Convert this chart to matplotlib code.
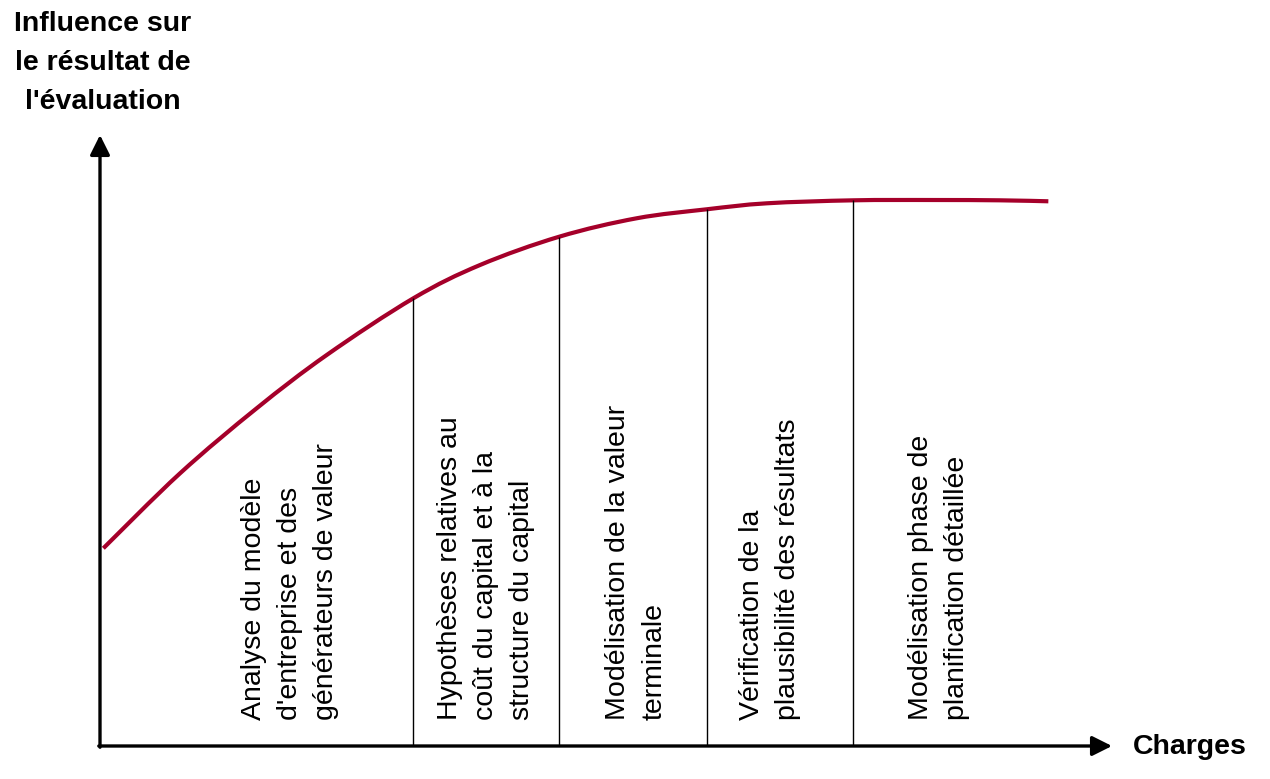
import numpy as np
import matplotlib
matplotlib.use("Agg")
import matplotlib.pyplot as plt
from matplotlib.path import Path
from matplotlib.patches import PathPatch

# ---- data (axis units 0..100) ----
curve_x = [0.33, 7.91, 15.48, 22.40, 30.96, 37.55, 45.39, 53.03, 59.95,
           65.88, 74.44, 82.31, 88.93, 93.71]
curve_y = [32.36, 44.63, 55.27, 63.99, 73.27, 78.72, 83.36, 86.37, 87.84,
           88.82, 89.31, 89.36, 89.31, 89.15]

boundaries = [30.96, 45.39, 59.95, 74.44]

phase_labels = [
    "Analyse du modèle\nd'entreprise et des\ngénérateurs de valeur",
    "Hypothèses relatives au\ncoût du capital et à la\nstructure du capital",
    "Modélisation de la valeur\nterminale",
    "Vérification de la\nplausibilité des résultats",
    "Modélisation phase de\nplanification détaillée",
]
label_x = [18.8, 38.1, 53.0, 66.2, 82.9]

y_title = "Influence sur\nle résultat de\nl'évaluation"
x_title = "Charges"

# ---- figure ----
W, H = 1270, 779
fig = plt.figure(figsize=(W / 100, H / 100), dpi=100)
fig.patch.set_facecolor("white")
ax = fig.add_axes([100 / W, 33 / H, 1012 / W, 611 / H])
ax.set_xlim(0, 100)
ax.set_ylim(0, 100)
ax.axis("off")

font = ["Liberation Sans", "DejaVu Sans"]

# axes arrows
arrow_kw = dict(arrowstyle="-|>,head_length=0.6,head_width=0.3", lw=2.4,
                color="black", mutation_scale=20, shrinkA=0, shrinkB=0)
ax.annotate("", xy=(100, 0), xytext=(-0.12, 0), arrowprops=arrow_kw,
            annotation_clip=False)
ax.annotate("", xy=(0, 100), xytext=(0, -0.2), arrowprops=arrow_kw,
            annotation_clip=False)

# phase separators
tops = np.interp(boundaries, curve_x, curve_y)
ax.vlines(boundaries, 0, tops, colors="black", lw=1.0)

# curve: smooth path through the read points (Catmull-Rom -> cubic Bezier)
pts = np.column_stack([curve_x, curve_y])
verts = [tuple(pts[0])]
codes = [Path.MOVETO]
n = len(pts)
for i in range(n - 1):
    p0 = pts[max(i - 1, 0)]
    p1 = pts[i]
    p2 = pts[i + 1]
    p3 = pts[min(i + 2, n - 1)]
    c1 = p1 + (p2 - p0) / 6.0
    c2 = p2 - (p3 - p1) / 6.0
    verts += [tuple(c1), tuple(c2), tuple(p2)]
    codes += [Path.CURVE4] * 3
ax.add_patch(PathPatch(Path(verts, codes), facecolor="none",
                       edgecolor="#A5002A", lw=3.0, capstyle="butt",
                       transform=ax.transData))

# phase labels
for x, lab in zip(label_x, phase_labels):
    ax.text(x, 4.3, lab, rotation=90, ha="center", va="bottom",
            multialignment="left", fontsize=20.5, family=font,
            linespacing=1.5, color="black")

# titles
fig.text(103 / W, 1 - 11 / H, y_title, ha="center", va="top", fontsize=20.5,
         fontweight="bold", family=font, linespacing=1.66)
fig.text(1190 / W, 1 - 747 / H, x_title, ha="center", va="center",
         fontsize=20.5, fontweight="bold", family=font)

fig.savefig("out.png", dpi=100, facecolor="white")
